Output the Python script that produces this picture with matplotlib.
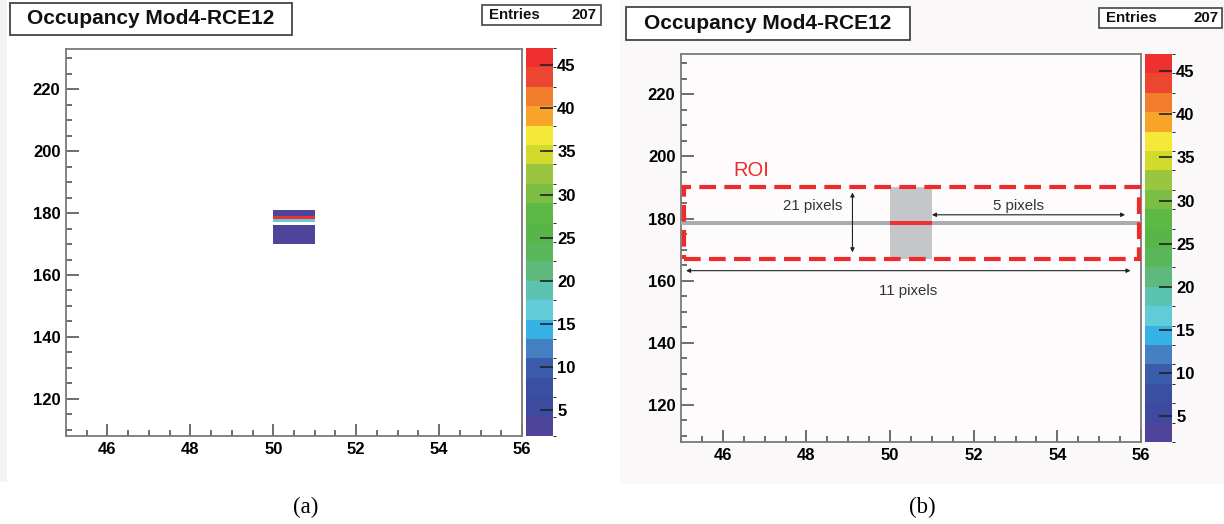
import numpy as np
import matplotlib
matplotlib.use("Agg")
import matplotlib.pyplot as plt
from matplotlib.colors import ListedColormap, BoundaryNorm
from matplotlib.patches import Rectangle
from matplotlib.ticker import MultipleLocator

# ---- data -------------------------------------------------------------
title = "Occupancy Mod4-RCE12"
entries = 207
# hit column / row bins (lower edges) and their counts
hit_col = [50, 50, 50, 50, 50, 50, 50, 50, 50, 50]
hit_row = [170, 171, 172, 173, 174, 175, 177, 178, 179, 180]
hit_count = [3, 2, 3, 4, 2, 3, 17, 47, 2, 3]
x_range = (45, 56)
y_range = (108, 233)
z_range = (2, 47)
n_levels = 20
palette = ["#4e4499", "#3e4a9d", "#3b4fa2", "#3a5caa", "#4480c2",
           "#35b1e6", "#62cbd9", "#5bc3b0", "#5dba7c", "#59b65a",
           "#58b648", "#5db946", "#7cbe44", "#99c63e", "#d2db2b",
           "#f4e838", "#f8a42a", "#f27d2c", "#ec4631", "#ee3030"]
x_ticks = [46, 48, 50, 52, 54, 56]
y_ticks = [120, 140, 160, 180, 200, 220]
z_ticks = [5, 10, 15, 20, 25, 30, 35, 40, 45]

# ROI annotation (panel b)
roi_x = (45.07, 55.95)
roi_y = (167.0, 190.2)
roi_col = 50
roi_row = 178

W, H = 1224, 524
fig = plt.figure(figsize=(W / 100, H / 100), dpi=100)
fig.patch.set_facecolor("white")
plt.rcParams["font.family"] = ["Liberation Sans", "DejaVu Sans"]


def rect(l, t, r, b):
    return [l / W, 1 - b / H, (r - l) / W, (b - t) / H]


# panel backgrounds
fig.patches.append(Rectangle((0, 1 - 482 / H), 7 / W, 482 / H, transform=fig.transFigure,
                             facecolor="#f3f3f3", edgecolor="none", zorder=-5))
fig.patches.append(Rectangle((620 / W, 1 - 484 / H), (W - 620) / W, 484 / H,
                             transform=fig.transFigure, facecolor="#faf8f9",
                             edgecolor="none", zorder=-5))

cmap = ListedColormap(palette)
levels = np.linspace(z_range[0], z_range[1], n_levels + 1)
norm = BoundaryNorm(levels, cmap.N)

# 2-D histogram grid
xe = np.arange(x_range[0], x_range[1] + 1)
ye = np.arange(y_range[0], y_range[1] + 1)
grid = np.zeros((len(ye) - 1, len(xe) - 1))
for c, r, v in zip(hit_col, hit_row, hit_count):
    grid[r - y_range[0], c - x_range[0]] += v
grid = np.ma.masked_equal(grid, 0)


def style_axes(ax, face):
    ax.set_facecolor(face)
    ax.set_xlim(*x_range)
    ax.set_ylim(*y_range)
    ax.xaxis.set_major_locator(MultipleLocator(2))
    ax.xaxis.set_minor_locator(MultipleLocator(0.5))
    ax.yaxis.set_major_locator(MultipleLocator(20))
    ax.yaxis.set_minor_locator(MultipleLocator(5))
    ax.set_xticks(x_ticks)
    ax.set_yticks(y_ticks)
    ax.tick_params(which="both", direction="in", color="#555555", width=1.2,
                   top=False, right=False)
    ax.tick_params(which="major", length=9, labelsize=12, pad=4)
    ax.tick_params(which="minor", length=4.5)
    for lab in ax.get_xticklabels() + ax.get_yticklabels():
        lab.set_fontweight("bold")
    for s in ax.spines.values():
        s.set_color("#7a7a7a")
        s.set_linewidth(1.3)


def colorbar(cax, mappable):
    cb = fig.colorbar(mappable, cax=cax, ticks=z_ticks)
    cb.outline.set_visible(False)
    cax.tick_params(direction="in", length=9.5, width=1.2, color="#222222",
                    labelsize=12, pad=3)
    for lab in cax.get_yticklabels():
        lab.set_fontweight("bold")
    return cb


def header(l, t, r, b, el, et, er, eb):
    fig.patches.append(Rectangle((l / W, 1 - b / H), (r - l) / W, (b - t) / H,
                                 transform=fig.transFigure, facecolor="white",
                                 edgecolor="#444444", linewidth=1.3))
    fig.text((l + r) / 2 / W, 1 - (t + b) / 2 / H, title, ha="center", va="center",
             fontsize=15, fontweight="bold", color="#111111")
    fig.patches.append(Rectangle((el / W, 1 - eb / H), (er - el) / W, (eb - et) / H,
                                 transform=fig.transFigure, facecolor="white",
                                 edgecolor="#444444", linewidth=1.2))
    fig.text((el + 7) / W, 1 - (et + eb) / 2 / H, "Entries", ha="left", va="center",
             fontsize=10.8, fontweight="bold", color="#111111")
    fig.text((er - 4) / W, 1 - (et + eb) / 2 / H, str(entries), ha="right", va="center",
             fontsize=10.8, fontweight="bold", color="#111111")


# ---- panel (a): occupancy map ------------------------------------------
ax_a = fig.add_axes(rect(66, 49, 522, 436))
style_axes(ax_a, "white")
mesh = ax_a.pcolormesh(xe, ye, grid, cmap=cmap, norm=norm)
cax_a = fig.add_axes(rect(526, 48, 553, 436))
colorbar(cax_a, mesh)
header(10, 3, 292, 35, 482, 5, 601, 25)
fig.text(306 / W, 1 - 507 / H, "(a)", ha="center", va="center", fontsize=16.5,
         family=["Liberation Serif", "DejaVu Serif"])

# ---- panel (b): region of interest --------------------------------------
ax_b = fig.add_axes(rect(681, 54, 1141, 442))
style_axes(ax_b, "#fdfbfc")
# hit row across the whole module, and the column containing the peak
ax_b.add_patch(Rectangle((roi_col, roi_y[0]), 1, roi_y[1] - roi_y[0],
                         facecolor="#c4c6c9", edgecolor="none", zorder=2))
ax_b.add_patch(Rectangle((x_range[0], roi_row), x_range[1] - x_range[0], 1.1,
                         facecolor="#a9acb0", edgecolor="none", zorder=3))
peak = int(np.argmax(hit_count))
ax_b.add_patch(Rectangle((hit_col[peak], hit_row[peak]), 1, 1.1,
                         facecolor=palette[-1], edgecolor="none", zorder=4))
ax_b.add_patch(Rectangle((roi_x[0], roi_y[0]), roi_x[1] - roi_x[0], roi_y[1] - roi_y[0],
                         fill=False, edgecolor="#ee2a2a", linewidth=3,
                         linestyle=(0, (4, 2)), zorder=5))
ax_b.text(46.25, 192.3, "ROI", color="#ee2a2a", fontsize=14.5, ha="left", va="bottom")

arrow = dict(arrowstyle="<|-|>", color="#222222", lw=0.8, mutation_scale=6,
             shrinkA=0, shrinkB=0)
ax_b.annotate("", xy=(49.1, 169.1), xytext=(49.1, 188.4), arrowprops=arrow, zorder=6)
ax_b.text(48.15, 184.1, "21 pixels", ha="center", va="center", fontsize=10.8,
          color="#333333")
ax_b.annotate("", xy=(51.0, 181.2), xytext=(55.62, 181.2), arrowprops=arrow, zorder=6)
ax_b.text(53.06, 184.1, "5 pixels", ha="center", va="center", fontsize=10.8,
          color="#333333")
ax_b.annotate("", xy=(45.12, 163.2), xytext=(55.75, 163.2), arrowprops=arrow, zorder=6)
ax_b.text(50.43, 156.6, "11 pixels", ha="center", va="center", fontsize=10.8,
          color="#333333")

cax_b = fig.add_axes(rect(1145, 54, 1172, 442))
colorbar(cax_b, mesh)
header(626, 7, 910, 40, 1099, 8, 1222, 28)
fig.text(922 / W, 1 - 507 / H, "(b)", ha="center", va="center", fontsize=16.5,
         family=["Liberation Serif", "DejaVu Serif"])

fig.savefig("out.png", dpi=100, facecolor=fig.get_facecolor())
